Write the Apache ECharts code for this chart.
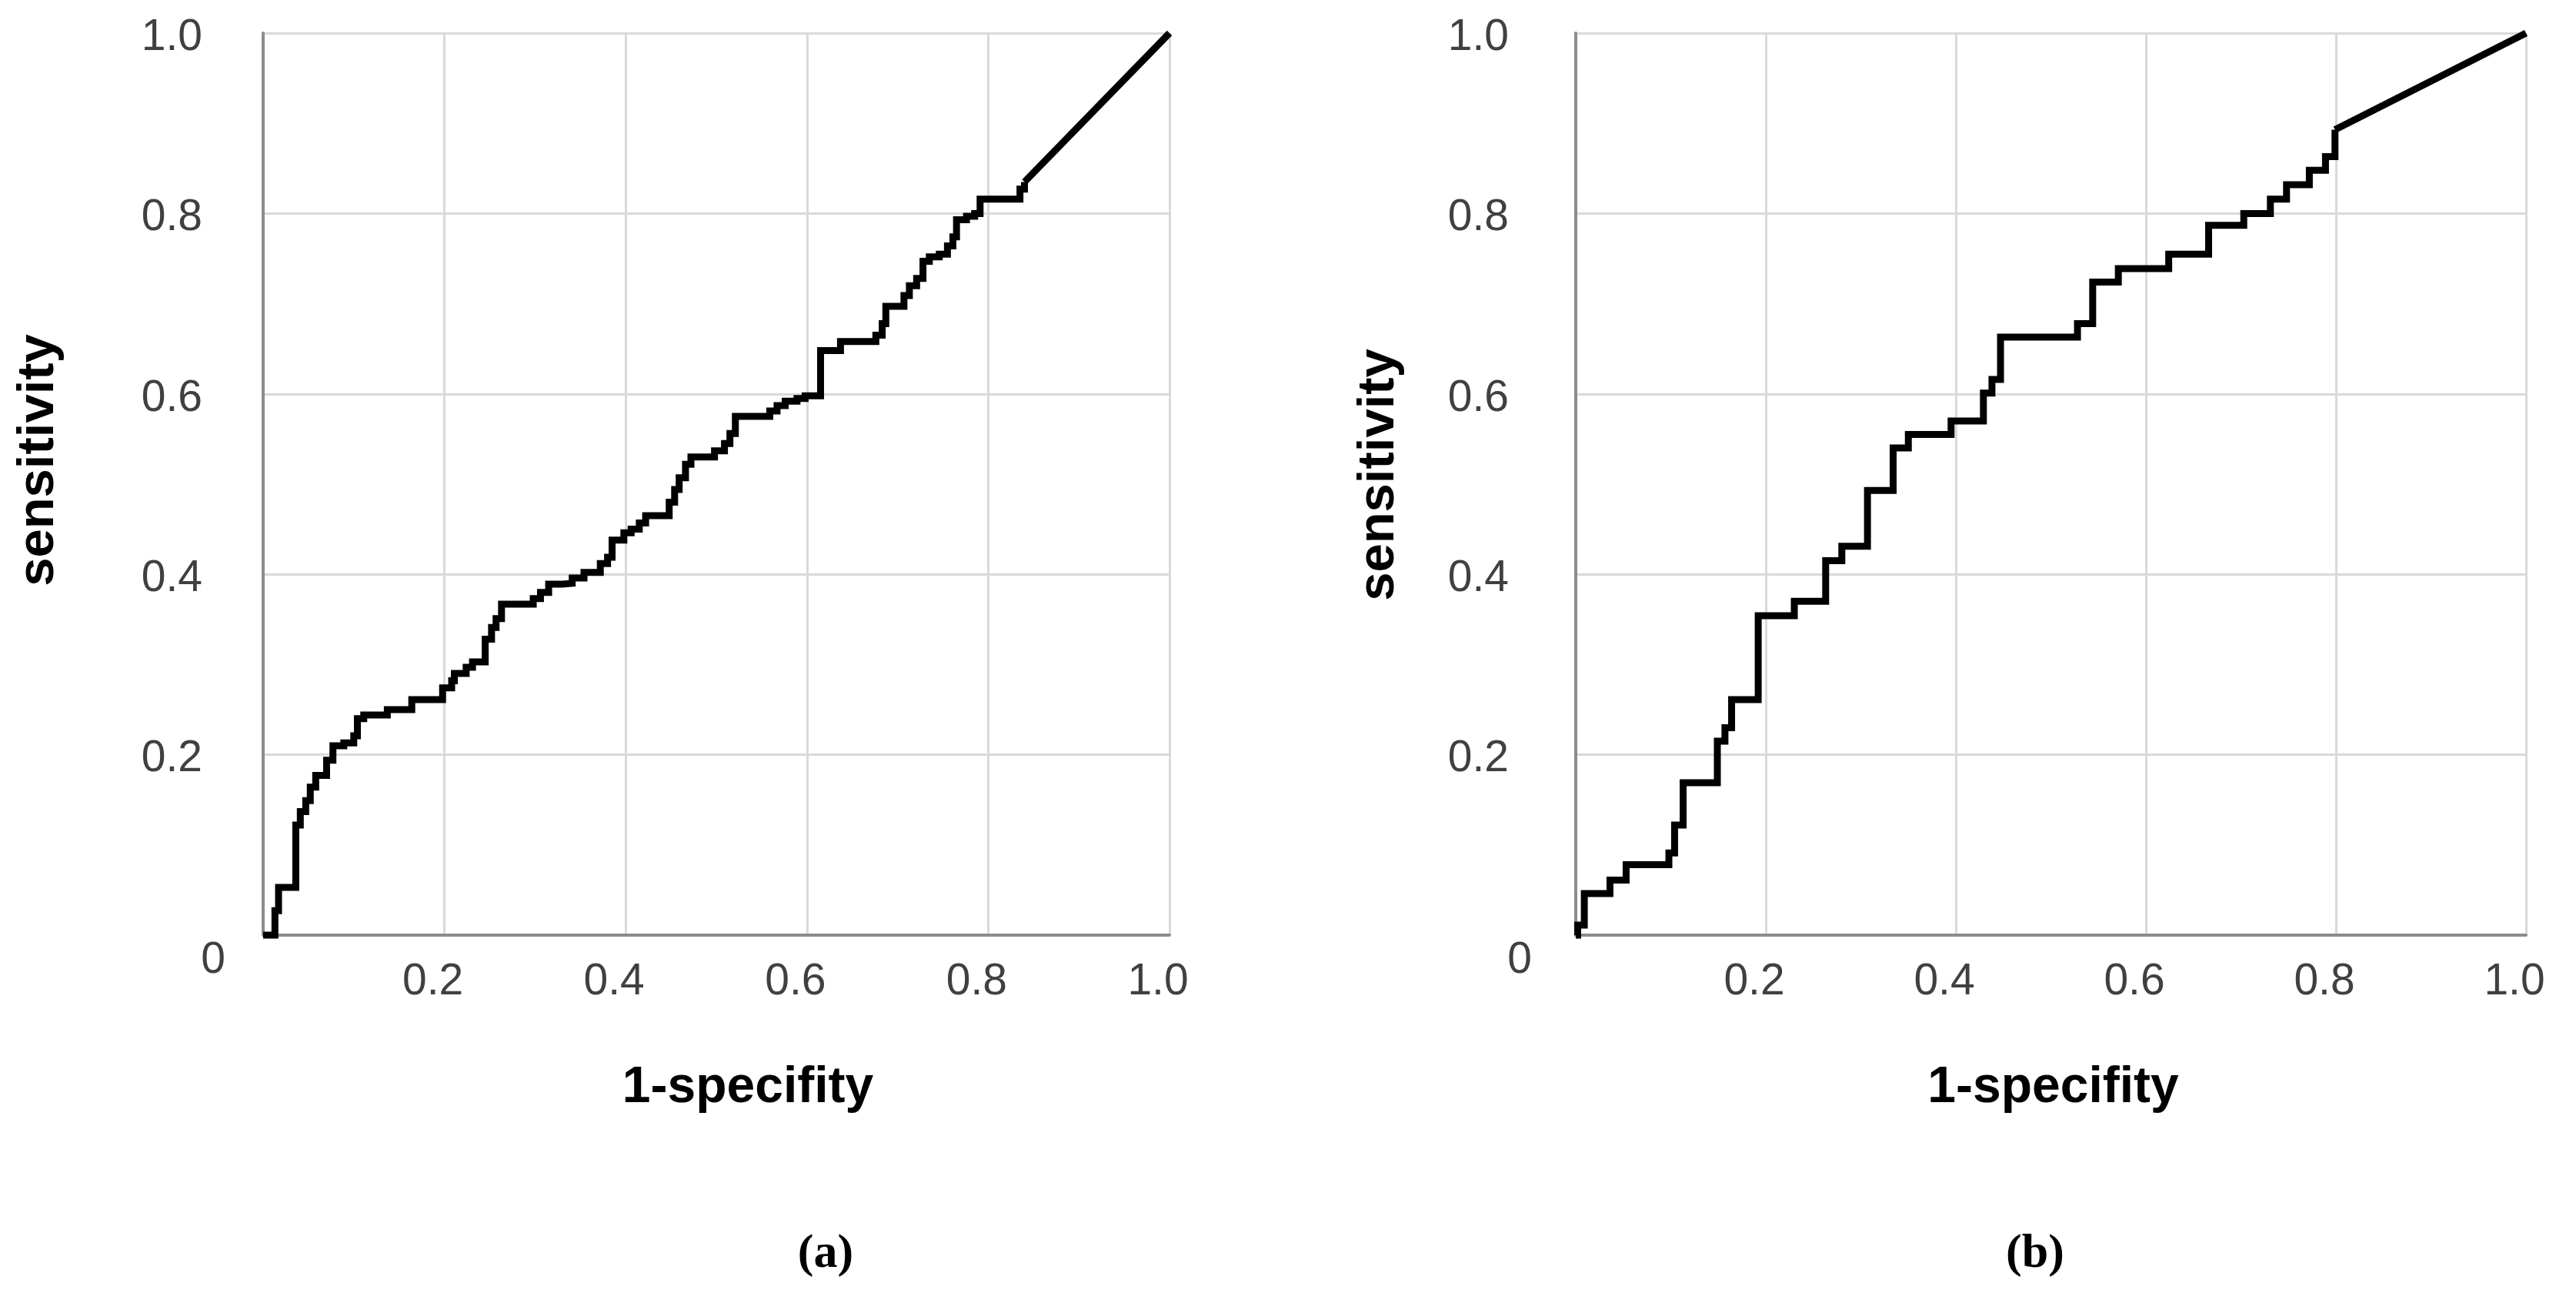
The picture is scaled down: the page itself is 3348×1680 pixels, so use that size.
<!DOCTYPE html>
<html>
<head>
<meta charset="utf-8">
<script src="https://cdn.jsdelivr.net/npm/echarts@6/dist/echarts.min.js"></script>
<style>
html,body{margin:0;padding:0;background:#fff;}
#chart{width:3348px;height:1680px;}
</style>
</head>
<body>
<div id="chart"></div>
<script>
// ---- data ----
var xTicks = [0, 0.2, 0.4, 0.6, 0.8, 1.0];
var yTicks = [0, 0.2, 0.4, 0.6, 0.8, 1.0];
var panelLabels = ['(a)', '(b)'];
var xAxisTitle = '1-specifity';
var yAxisTitle = 'sensitivity';

// panel (a): staircase part (x = 1-specificity, y = sensitivity)
var fprA = [0, 0.013, 0.017, 0.036, 0.041, 0.047, 0.052, 0.058, 0.070, 0.077, 0.089, 0.100, 0.104, 0.111, 0.137, 0.164,
  0.198, 0.208, 0.211, 0.224, 0.231, 0.245, 0.252, 0.257, 0.263, 0.298, 0.306, 0.315, 0.330, 0.341, 0.354, 0.372,
  0.380, 0.385, 0.398, 0.406, 0.415, 0.422, 0.448, 0.454, 0.459, 0.466, 0.472, 0.498, 0.509, 0.515, 0.521, 0.559,
  0.567, 0.576, 0.589, 0.598, 0.615, 0.637, 0.676, 0.683, 0.687, 0.707, 0.713, 0.721, 0.728, 0.735, 0.746, 0.755,
  0.761, 0.765, 0.776, 0.785, 0.791, 0.835, 0.840];
var tprA = [0, 0.027, 0.053, 0.122, 0.137, 0.149, 0.164, 0.177, 0.194, 0.210, 0.213, 0.221, 0.240, 0.244, 0.250, 0.261,
  0.274, 0.282, 0.290, 0.297, 0.303, 0.328, 0.341, 0.351, 0.367, 0.373, 0.380, 0.389, 0.390, 0.396, 0.402, 0.412,
  0.419, 0.438, 0.446, 0.450, 0.457, 0.465, 0.480, 0.494, 0.507, 0.522, 0.530, 0.537, 0.545, 0.556, 0.575, 0.581,
  0.587, 0.592, 0.595, 0.598, 0.648, 0.658, 0.665, 0.678, 0.697, 0.709, 0.720, 0.728, 0.747, 0.752, 0.755, 0.764,
  0.774, 0.793, 0.797, 0.800, 0.816, 0.827, 0.835];
// panel (a): final straight segment
var fprATail = [0.840, 1.0];
var tprATail = [0.835, 1.0];

// panel (b): staircase part
var fprB = [0, 0.002, 0.009, 0.036, 0.053, 0.098, 0.104, 0.113, 0.149, 0.157, 0.164, 0.192, 0.230, 0.263, 0.280, 0.307,
  0.334, 0.350, 0.395, 0.429, 0.438, 0.447, 0.528, 0.544, 0.571, 0.624, 0.666, 0.703, 0.731, 0.748, 0.772, 0.789, 0.799];
var tprB = [0, 0.011, 0.046, 0.061, 0.078, 0.091, 0.122, 0.169, 0.215, 0.230, 0.261, 0.354, 0.370, 0.415, 0.431, 0.493,
  0.540, 0.555, 0.570, 0.601, 0.616, 0.663, 0.678, 0.724, 0.739, 0.755, 0.787, 0.800, 0.816, 0.832, 0.848, 0.863, 0.893];
// panel (b): final straight segment
var fprBTail = [0.799, 1.0];
var tprBTail = [0.893, 1.0];

function pairs(xs, ys) { return xs.map(function (x, i) { return [x, ys[i]]; }); }

var FONT = '"Liberation Sans", Arial, sans-serif';
var tickColor = '#404040';

function makeX(gridIndex, namePadLeft) {
  return {
    gridIndex: gridIndex, type: 'value', min: xTicks[0], max: xTicks[xTicks.length - 1], interval: 0.2,
    name: xAxisTitle, nameLocation: 'middle', nameGap: 166,
    nameTextStyle: { fontFamily: FONT, fontWeight: 'bold', fontSize: 66, color: '#000', padding: [0, 0, 0, namePadLeft] },
    axisLine: { show: true, lineStyle: { color: '#8c8c8c', width: 4 } },
    axisTick: { show: false },
    splitLine: { show: true, lineStyle: { color: '#d9d9d9', width: 3 } },
    axisLabel: {
      margin: 33, fontFamily: FONT, fontSize: 57, color: tickColor,
      formatter: function (v) { return v === 0 ? '' : '{n|' + v.toFixed(1) + '}'; },
      rich: { n: { fontFamily: FONT, fontSize: 57, color: tickColor, padding: [0, 30, 0, 0] } }
    }
  };
}
function makeY(gridIndex, nameGap, margin, namePadLeft) {
  return {
    gridIndex: gridIndex, type: 'value', min: yTicks[0], max: yTicks[yTicks.length - 1], interval: 0.2,
    name: yAxisTitle, nameLocation: 'middle', nameGap: nameGap,
    nameTextStyle: { fontFamily: FONT, fontWeight: 'bold', fontSize: 67, color: '#000', padding: [0, 0, 0, namePadLeft] },
    axisLine: { show: true, lineStyle: { color: '#8c8c8c', width: 4 } },
    axisTick: { show: false },
    splitLine: { show: true, lineStyle: { color: '#d9d9d9', width: 3 } },
    axisLabel: {
      margin: margin, fontFamily: FONT, fontSize: 57, color: tickColor,
      formatter: function (v) { return v === 0 ? '{z|0}' : '{n|' + v.toFixed(1) + '}'; },
      rich: {
        n: { fontFamily: FONT, fontSize: 57, color: tickColor, padding: [12, 30, 0, 0] },
        z: { fontFamily: FONT, fontSize: 57, color: tickColor, padding: [66, 0, 0, 0] }
      }
    }
  };
}
function lineSeries(xi, data, step) {
  return {
    type: 'line', xAxisIndex: xi, yAxisIndex: xi, data: data, step: step,
    showSymbol: false, symbol: 'none', clip: false,
    lineStyle: { color: '#000', width: 9, join: 'miter' }
  };
}

var chart = echarts.init(document.getElementById('chart'), null, { renderer: 'canvas' });
chart.setOption({
  animation: false,
  backgroundColor: '#fff',
  title: [
    { text: panelLabels[0], left: 1068, top: 1594, textAlign: 'center',
      textStyle: { fontFamily: '"Liberation Serif", serif', fontWeight: 'bold', fontSize: 62, color: '#000' } },
    { text: panelLabels[1], left: 2640, top: 1594, textAlign: 'center',
      textStyle: { fontFamily: '"Liberation Serif", serif', fontWeight: 'bold', fontSize: 62, color: '#000' } }
  ],
  grid: [
    { left: 342, top: 43, width: 1178, height: 1172, containLabel: false },
    { left: 2048, top: 43, width: 1235, height: 1172, containLabel: false }
  ],
  xAxis: [makeX(0, 82), makeX(1, 6)],
  yAxis: [makeY(0, 258, 49, 62), makeY(1, 222, 57, 24)],
  series: [
    lineSeries(0, pairs(fprA, tprA), 'end'),
    lineSeries(0, pairs(fprATail, tprATail), false),
    lineSeries(1, pairs(fprB, tprB), 'end'),
    lineSeries(1, pairs(fprBTail, tprBTail), false)
  ]
});
</script>
</body>
</html>
